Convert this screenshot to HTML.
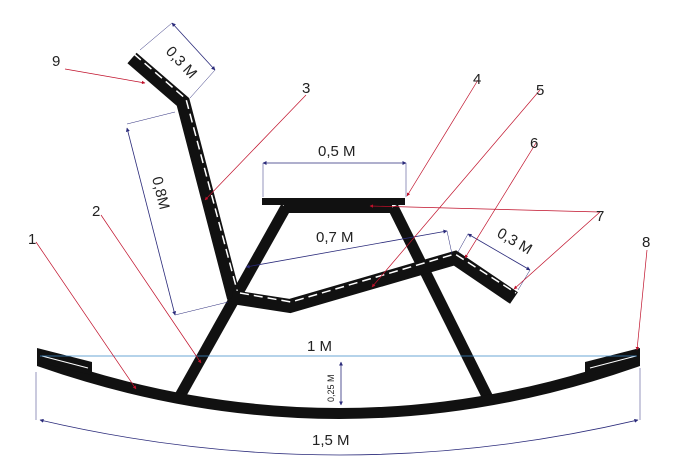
<!DOCTYPE html>
<html><head><style>html,body{margin:0;padding:0;background:#fff}svg{display:block}</style></head>
<body>
<svg width="680" height="467" viewBox="0 0 680 467" xmlns="http://www.w3.org/2000/svg" font-family="Liberation Sans, sans-serif">
<defs>
<marker id="ab" viewBox="0 0 10 10" refX="9" refY="5" markerWidth="5" markerHeight="5" orient="auto-start-reverse"><path d="M0,0L10,5L0,10z" fill="#2a2a7a"/></marker>
<marker id="ar" viewBox="0 0 10 10" refX="9" refY="5" markerWidth="5" markerHeight="5" orient="auto"><path d="M0,0L10,5L0,10z" fill="#c0102a"/></marker>
</defs>
<!-- legs -->
<line x1="286" y1="207" x2="180" y2="396" stroke="#111" stroke-width="11"/>
<line x1="393" y1="207" x2="490" y2="402" stroke="#111" stroke-width="11"/>
<!-- rocker -->
<path d="M37,354 Q340,462 640,354 L640,366 Q340,472 37,366 Z" fill="#111"/>
<path d="M37,348 L92,362 L92,375 L37,362 Z" fill="#111"/>
<path d="M640,348 L585,362 L585,375 L640,362 Z" fill="#111"/>
<path d="M42,356 L88,368 M590,368 L636,356" stroke="#fff" stroke-width="1"/>
<rect x="262" y="198" width="143" height="7" fill="#111"/>
<rect x="284" y="205" width="108" height="8" fill="#111"/>
<!-- back -->
<polyline points="132,58 183,102 234,298" fill="none" stroke="#111" stroke-width="14" stroke-linejoin="miter"/>
<polyline points="134,54 186,99 238,294" fill="none" stroke="#fff" stroke-width="1.5" stroke-dasharray="9,5"/>
<!-- seat -->
<polyline points="232,297 290,306 455,258 514,298" fill="none" stroke="#111" stroke-width="14" stroke-linejoin="miter"/>
<polyline points="240,293 291,302 455,254 516,293" fill="none" stroke="#fff" stroke-width="1.5" stroke-dasharray="9,5"/>
<!-- dimension lines -->
<g stroke="#2a2a7a" stroke-width="0.8" fill="none">
<line x1="172" y1="23" x2="215" y2="70" marker-start="url(#ab)" marker-end="url(#ab)"/>
<line x1="140" y1="50" x2="172" y2="23" stroke-width="0.5"/>
<line x1="190" y1="98" x2="215" y2="70" stroke-width="0.5"/>
<line x1="127" y1="128" x2="175" y2="315" marker-start="url(#ab)" marker-end="url(#ab)"/>
<line x1="127" y1="124" x2="175" y2="112" stroke-width="0.5"/>
<line x1="175" y1="315" x2="228" y2="302" stroke-width="0.5"/>
<line x1="263" y1="163" x2="406" y2="163" marker-start="url(#ab)" marker-end="url(#ab)"/>
<line x1="263" y1="163" x2="263" y2="197" stroke-width="0.5"/>
<line x1="406" y1="163" x2="406" y2="197" stroke-width="0.5"/>
<line x1="246" y1="267" x2="447" y2="231" marker-start="url(#ab)" marker-end="url(#ab)"/>
<line x1="447" y1="231" x2="452" y2="254" stroke-width="0.5"/>
<line x1="468" y1="234" x2="530" y2="270" marker-start="url(#ab)" marker-end="url(#ab)"/>
<line x1="468" y1="234" x2="458" y2="252" stroke-width="0.5"/>
<line x1="530" y1="270" x2="518" y2="290" stroke-width="0.5"/>
<line x1="341" y1="362" x2="341" y2="405" marker-start="url(#ab)" marker-end="url(#ab)"/>
<path d="M40,420 Q340,490 638,420" marker-start="url(#ab)" marker-end="url(#ab)"/>
<line x1="36" y1="372" x2="36" y2="420" stroke-width="0.5"/>
<line x1="640" y1="368" x2="640" y2="420" stroke-width="0.5"/>
</g>
<line x1="40" y1="356" x2="637" y2="356" stroke="#3a8ac8" stroke-width="0.8"/>
<!-- red leaders -->
<g stroke="#c0102a" stroke-width="0.7" marker-end="url(#ar)">
<line x1="65" y1="69" x2="145" y2="83"/>
<line x1="306" y1="95" x2="205" y2="200"/>
<line x1="478" y1="80" x2="407" y2="196"/>
<line x1="540" y1="90" x2="372" y2="287"/>
<line x1="536" y1="143" x2="465" y2="258"/>
<line x1="600" y1="212" x2="370" y2="206"/>
<line x1="600" y1="212" x2="514" y2="289"/>
<line x1="647" y1="250" x2="637" y2="350"/>
<line x1="36" y1="242" x2="136" y2="389"/>
<line x1="101" y1="215" x2="201" y2="363"/>
</g>
<g font-size="15" fill="#222">
<text x="52" y="66">9</text>
<text x="302" y="93">3</text>
<text x="473" y="84">4</text>
<text x="536" y="95">5</text>
<text x="530" y="148">6</text>
<text x="596" y="221">7</text>
<text x="642" y="247">8</text>
<text x="92" y="216">2</text>
<text x="28" y="244">1</text>
<text x="318" y="156">0,5 М</text>
<text x="316" y="242">0,7 М</text>
<text x="307" y="351">1 М</text>
<text x="312" y="445">1,5 М</text>
<text transform="translate(165,52) rotate(47)">0,3 М</text>
<text transform="translate(496,236) rotate(30)">0,3 М</text>
<text transform="translate(152,178) rotate(76)">0,8М</text>
<text font-size="9" transform="translate(334,402) rotate(-90)">0,25 М</text>
</g>
</svg>
</body></html>
